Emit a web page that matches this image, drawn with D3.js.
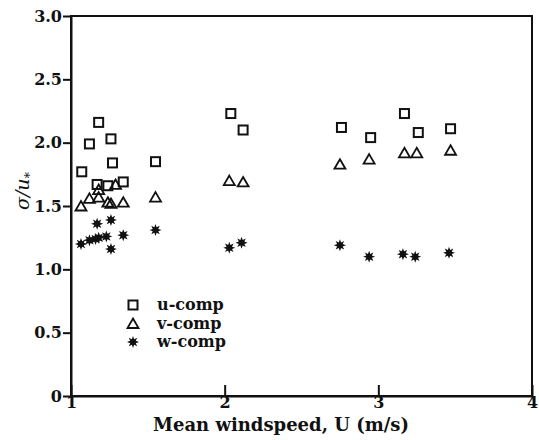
<!DOCTYPE html>
<html>
<head>
<meta charset="utf-8">
<script src="https://cdn.jsdelivr.net/npm/d3@7"></script>
<style>
  body { margin: 0; background: #fff; }
  svg { display: block; }
  .axis text { font-family: "DejaVu Serif", serif; font-size: 16px; font-weight: bold; fill: #111; }
  .axis path, .axis line { stroke: #111; stroke-width: 2; }
</style>
</head>
<body>
<div id="chart"></div>
<script>
// data
var uX = [1.07, 1.12, 1.18, 1.26, 1.27, 1.17, 1.24, 1.34, 1.55, 2.04, 2.12, 2.76, 2.95, 3.17, 3.26, 3.47];
var uY = [1.77, 1.99, 2.16, 2.03, 1.84, 1.67, 1.66, 1.69, 1.85, 2.23, 2.10, 2.12, 2.04, 2.23, 2.08, 2.11];
var vX = [1.065, 1.12, 1.18, 1.18, 1.24, 1.26, 1.29, 1.34, 1.55, 2.03, 2.12, 2.75, 2.94, 3.17, 3.25, 3.47];
var vY = [1.50, 1.56, 1.57, 1.63, 1.53, 1.52, 1.67, 1.53, 1.57, 1.70, 1.69, 1.83, 1.87, 1.92, 1.92, 1.94];
var wX = [1.065, 1.12, 1.16, 1.18, 1.23, 1.17, 1.26, 1.26, 1.34, 1.55, 2.03, 2.11, 2.75, 2.94, 3.16, 3.24, 3.46];
var wY = [1.20, 1.23, 1.24, 1.25, 1.26, 1.36, 1.39, 1.16, 1.27, 1.31, 1.17, 1.21, 1.19, 1.10, 1.12, 1.10, 1.13];
var yTicks = [0, 0.5, 1.0, 1.5, 2.0, 2.5, 3.0];
var xTicks = [1, 2, 3, 4];
var legendNames = ["u-comp", "v-comp", "w-comp"];

var width = 539, height = 440;
var marginLeft = 71, marginRight = 7, marginTop = 16, marginBottom = 44;

var svg = d3.select("#chart").append("svg")
    .attr("width", width)
    .attr("height", height);

var x = d3.scaleLinear().domain([1, 4]).range([marginLeft, width - marginRight]);
var y = d3.scaleLinear().domain([0, 3]).range([height - marginBottom, marginTop]);

// frame
svg.append("rect")
    .attr("x", x(1)).attr("y", y(3))
    .attr("width", x(4) - x(1)).attr("height", y(0) - y(3))
    .attr("fill", "none").attr("stroke", "#111").attr("stroke-width", 2);

// y axis, ticks outward
svg.append("g")
    .attr("class", "axis")
    .attr("transform", "translate(" + x(1) + ",0)")
    .call(d3.axisLeft(y).tickValues(yTicks).tickSizeInner(8).tickSizeOuter(0).tickPadding(1)
        .tickFormat(function (d) { return d == 0 ? "0" : d3.format(".1f")(d); }));

// x axis, ticks inward
svg.append("g")
    .attr("class", "axis")
    .attr("transform", "translate(0," + y(0) + ")")
    .call(d3.axisBottom(x).tickValues(xTicks).tickSizeInner(-11).tickSizeOuter(0).tickPadding(1)
        .tickFormat(d3.format("d")));

// axis titles
svg.append("text")
    .attr("x", 281).attr("y", 431)
    .attr("text-anchor", "middle")
    .style("font-family", "DejaVu Serif, serif")
    .style("font-size", "18px")
    .style("font-weight", "bold")
    .attr("fill", "#111")
    .text("Mean windspeed, U (m/s)");

var yTitle = svg.append("text")
    .attr("transform", "translate(29,191) rotate(-90)")
    .attr("text-anchor", "middle")
    .style("font-family", "DejaVu Serif, serif")
    .style("font-size", "19px")
    .style("font-style", "italic")
    .attr("fill", "#111");
yTitle.append("tspan").text("\u03c3/u");
yTitle.append("tspan").attr("dy", 5).style("font-size", "13px").style("font-style", "normal").text("*");

// marker shapes
function square(g) {
    g.append("rect").attr("x", -4.5).attr("y", -4.5).attr("width", 9).attr("height", 9)
        .attr("fill", "none").attr("stroke", "#111").attr("stroke-width", 2);
}
function triangle(g) {
    g.append("path").attr("d", "M0,-5L5.5,4.5L-5.5,4.5Z")
        .attr("fill", "none").attr("stroke", "#111").attr("stroke-width", 1.8).attr("stroke-linejoin", "miter");
}
var starPts = d3.range(16).map(function (i) {
    var a = i * Math.PI / 8, r = i % 2 == 0 ? 6 : 3;
    return [r * Math.sin(a), -r * Math.cos(a)];
});
function star(g) {
    g.append("path").attr("d", "M" + starPts.join("L") + "Z").attr("fill", "#111");
}

function drawSeries(xs, ys, shape) {
    xs.forEach(function (xv, i) {
        var g = svg.append("g").attr("transform", "translate(" + x(xv) + "," + y(ys[i]) + ")");
        shape(g);
    });
}
drawSeries(uX, uY, square);
drawSeries(vX, vY, triangle);
drawSeries(wX, wY, star);

// legend
var shapes = [square, triangle, star];
legendNames.forEach(function (name, i) {
    var ly = 305 + i * 18.5;
    var g = svg.append("g").attr("transform", "translate(133," + ly + ")");
    shapes[i](g);
    svg.append("text")
        .attr("x", 157).attr("y", ly + 5)
        .style("font-family", "DejaVu Serif, serif")
        .style("font-size", "16px")
        .style("font-weight", "bold")
        .attr("fill", "#111")
        .text(name);
});
</script>
</body>
</html>
